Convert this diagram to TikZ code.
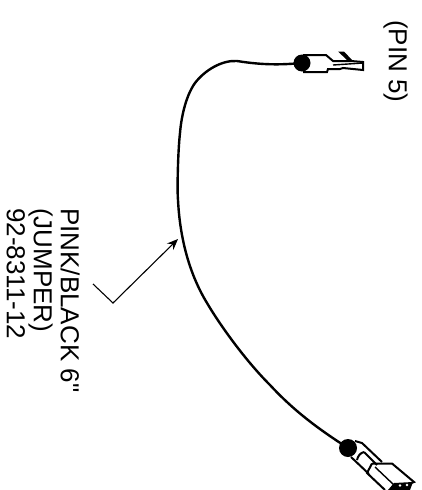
\documentclass[tikz,border=0pt]{standalone}
\usepackage{fontspec}
\newfontfamily\plainsans{Liberation Sans}
\usetikzlibrary{arrows.meta}
\tikzset{
 lbl/.style={rotate=-90,anchor=north west,inner sep=0pt,align=left,font=\plainsans\fontsize{26}{27}\selectfont},
 wire/.style={line width=2.4pt,line cap=round},
 part/.style={line width=2pt,line join=miter},
 leader/.style={line width=1.1pt}
}
\begin{document}
\begin{tikzpicture}[x=1pt,y=-1pt]
\useasboundingbox (0,0) rectangle (422,490);
\node[lbl] (pin) at (408,20) {(PIN 5)};
\node[lbl] (jump) at (80,208) {PINK/BLACK 6"\\(JUMPER)\\92-8311-12};
% wire
\coordinate (wa) at (302,63);
\coordinate (wb) at (348,448);
\draw[wire] (wa) .. controls (280,65) and (262,65) .. (237,61)
  .. controls (222,60) and (205,70) .. (195,83)
  .. controls (185,97) and (181,120) .. (180,133)
  .. controls (178,150) and (177,190) .. (178,200)
  .. controls (180,240) and (190,275) .. (207,303)
  .. controls (220,325) and (245,360) .. (270,385)
  .. controls (295,412) and (320,430) .. (wb);
% leader
\coordinate (la) at (93,284);
\coordinate (lb) at (113,303);
\coordinate (lc) at (178,239);
\draw[leader,-{Stealth[length=11pt,width=9pt]}] (la) -- (lb) -- (lc);
% upper terminal
\fill (wa) circle (8.5);
\draw[part] (303,55) -- (326,55) -- (333,61) -- (351,61) -- (363,62) -- (363,70) -- (343,68) -- (340,69) -- (328,69) -- (327,72) -- (303,72);
\draw[line width=1.4pt] (333,65) -- (363,63);
\fill (338,51.5) -- (344,51.5) -- (352,60) -- (347,60) -- cycle;
% lower terminal
\fill (wb) circle (9);
\draw[part] (355,441) -- (362,443) -- (382,462);
\draw[part] (351,457) -- (369,474);
\draw[part] (364,452) -- (377,465);
\draw[part] (364,452) .. controls (360,453) and (358,456) .. (357,460);
\draw[part] (372,463.5) -- (392,463.5) -- (414,482) -- (392,490);
\draw[part] (372,463.5) -- (367,473) -- (385,490);
\draw[line width=1.4pt] (375,467) -- (394,485);
\fill (388,490) -- (394,483) -- (413,482) -- (410,490) -- cycle;
\fill[white] (400,485.5) circle (1.3) (407,485) circle (1.3);
\end{tikzpicture}
\end{document}
